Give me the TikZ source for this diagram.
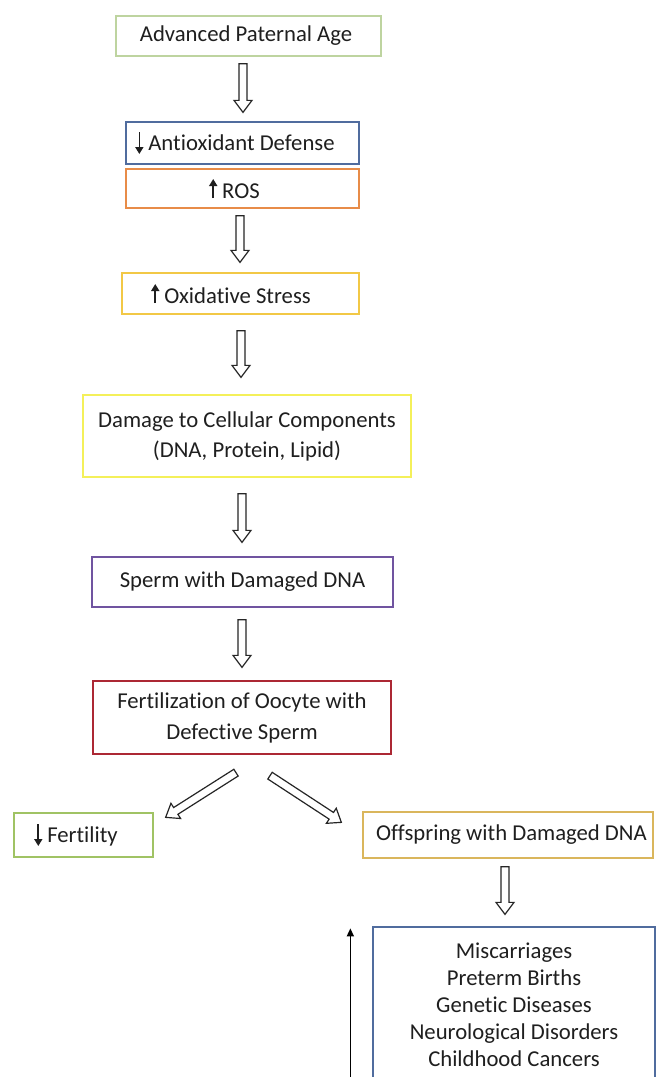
\documentclass[tikz,border=0pt]{standalone}
\usepackage{fontspec}
\setmainfont{Carlito}[Ligatures=NoCommon]
\usetikzlibrary{calc,arrows.meta}
\definecolor{cApa}{RGB}{190,212,160}
\definecolor{cBlue}{RGB}{80,108,158}
\definecolor{cOrange}{RGB}{232,140,72}
\definecolor{cGold}{RGB}{242,200,70}
\definecolor{cYellow}{RGB}{244,240,90}
\definecolor{cPurple}{RGB}{112,84,160}
\definecolor{cRed}{RGB}{172,40,52}
\definecolor{cGreen}{RGB}{160,195,100}
\definecolor{cOchre}{RGB}{218,182,92}
\newcommand{\dnarr}{\tikz[baseline=0pt]\draw[line width=1.7pt,-{Triangle[length=7pt,width=8pt]}] (0pt,18pt)--(0pt,-4pt);}
\newcommand{\uparr}{\tikz[baseline=0pt]\draw[line width=1.7pt,-{Triangle[length=7pt,width=8pt]}] (0pt,0pt)--(0pt,19pt);}
\newcommand{\blockarrow}[2]{%
  \coordinate (bah) at ($(#2)!12pt!(#1)$);
  \draw[blockarr] ($(#1)!4pt!90:(#2)$) -- ($(bah)!4pt!90:(#2)$) -- ($(bah)!9pt!90:(#2)$) -- (#2)
    -- ($(bah)!9pt!-90:(#2)$) -- ($(bah)!4pt!-90:(#2)$) -- ($(#1)!4pt!-90:(#2)$) -- cycle;}
\begin{document}
\begin{tikzpicture}[x=1pt,y=-1pt,
  box/.style={draw, line width=1.3pt, fill=white, inner sep=0pt, align=center,
    text=black!88, font=\fontsize{22.7}{27}\selectfont},
  blockarr/.style={draw=black!85, line width=1.2pt, fill=white, line join=miter}]
\useasboundingbox (0,0) rectangle (658,1077);
\clip (0,0) rectangle (658,1077);
\fill[white] (0,0) rectangle (658,1077);

\node[box, draw=cApa, minimum width=265, minimum height=40] (apa) at (248.5,36) {Advanced Paternal Age\hspace{5pt}};
\node[box, draw=cBlue, minimum width=233, minimum height=42] (aod) at (242.5,143) {\dnarr\hspace{5pt}Antioxidant Defense\hspace{15pt}};
\node[box, draw=cOrange, minimum width=233, minimum height=39] (ros) at (242.5,188.5) {\uparr\hspace{5pt}ROS\hspace{16pt}};
\node[box, draw=cGold, minimum width=237, minimum height=41] (oxs) at (240.5,293.5) {\uparr\hspace{5pt}Oxidative Stress\hspace{19pt}};
\node[box, draw=cYellow, minimum width=328, minimum height=82, font=\fontsize{22.7}{30}\selectfont] (dmg) at (247,436) {Damage to Cellular Components\\(DNA, Protein, Lipid)};
\node[box, draw=cPurple, minimum width=301, minimum height=50] (spm) at (242.5,582) {Sperm with Damaged DNA};
\node[box, draw=cRed, minimum width=298, minimum height=73, font=\fontsize{22.7}{31}\selectfont] (frt) at (242,717.5) {Fertilization of Oocyte with\\Defective Sperm};
\node[box, draw=cGreen, minimum width=139, minimum height=44] (fty) at (83.5,835) {\dnarr\hspace{5pt}Fertility\hspace{15pt}};
\node[box, draw=cOchre, minimum width=290, minimum height=46] (off) at (508,835) {\hspace{7pt}Offspring with Damaged DNA};
\node[box, draw=cBlue, minimum width=282, minimum height=155] (mis) at (514,1004.5) {Miscarriages\\Preterm Births\\Genetic Diseases\\Neurological Disorders\\Childhood Cancers};

\coordinate (a1s) at ($(apa.south)+(-5.5,7)$);
\coordinate (a1e) at ($(aod.north)+(0.5,-9)$);
\coordinate (a2s) at ($(ros.south)+(-2.5,7)$);
\coordinate (a2e) at ($(oxs.north)+(-0.5,-10)$);
\coordinate (a3s) at ($(oxs.south)+(0.5,16)$);
\coordinate (a3e) at ($(dmg.north)+(-6,-17)$);
\coordinate (a4s) at ($(dmg.south)+(-5,16)$);
\coordinate (a4e) at ($(spm.north)+(-0.5,-14)$);
\coordinate (a5s) at ($(spm.south)+(-0.5,12)$);
\coordinate (a5e) at ($(frt.north)+(0,-13)$);
\coordinate (a6s) at ($(frt.south)+(-6,18)$);
\coordinate (a6e) at ($(fty.north east)+(12,5)$);
\coordinate (a7s) at ($(frt.south)+(28,21)$);
\coordinate (a7e) at ($(off.north west)+(-21,11)$);
\coordinate (a8s) at ($(off.south)+(-3,8)$);
\coordinate (a8e) at ($(mis.north)+(-9,-12)$);

\blockarrow{a1s}{a1e}
\blockarrow{a2s}{a2e}
\blockarrow{a3s}{a3e}
\blockarrow{a4s}{a4e}
\blockarrow{a5s}{a5e}
\blockarrow{a6s}{a6e}
\blockarrow{a7s}{a7e}
\blockarrow{a8s}{a8e}

\coordinate (ta) at ($(mis.south west)+(-22,10)$);
\coordinate (tb) at ($(mis.north west)+(-22,2)$);
\draw[line width=1.5pt, -{Triangle[length=8pt,width=7pt]}] (ta) -- (tb);
\end{tikzpicture}
\end{document}
